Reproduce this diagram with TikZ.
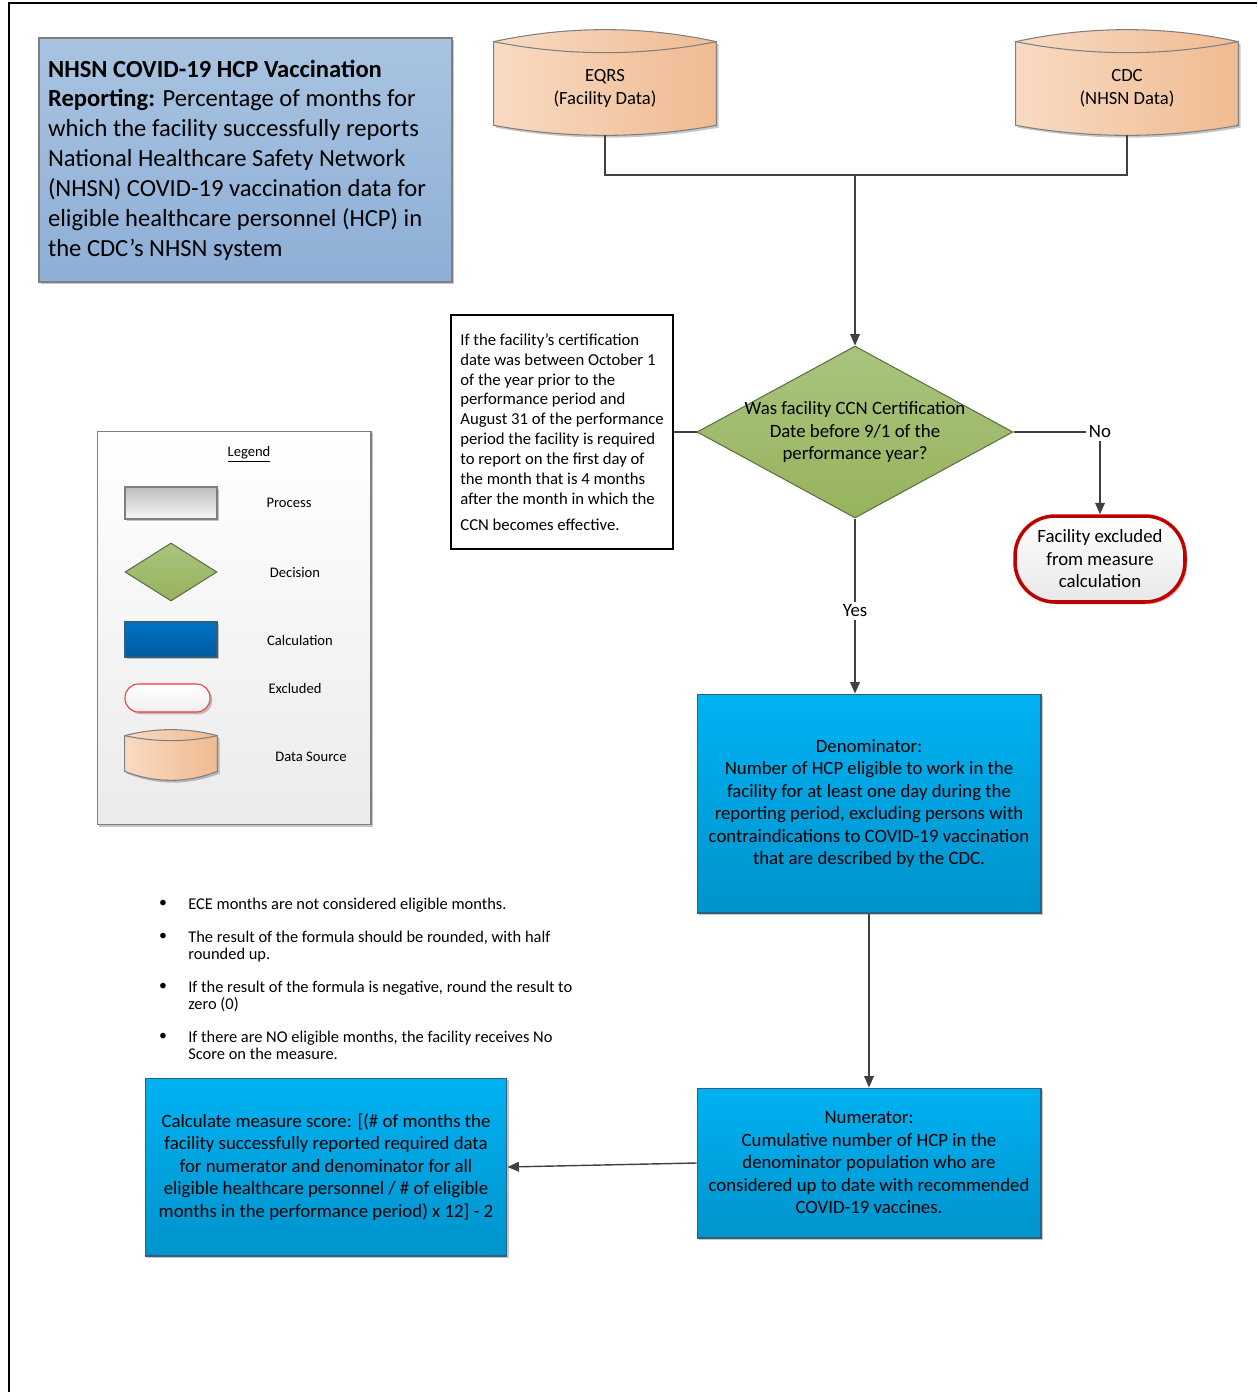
\documentclass[tikz,border=0pt]{standalone}
\usepackage{fontspec}
\setmainfont{Carlito}
\usepackage{xcolor}
\usepackage{tikz}
\usetikzlibrary{shapes,arrows,positioning,calc,shadows,arrows.meta}

\definecolor{linegray}{HTML}{404040}
\definecolor{titletop}{HTML}{A9C4E1}
\definecolor{titlebot}{HTML}{8DAED6}
\definecolor{edgegray}{HTML}{7F7F7F}
\definecolor{calctop}{HTML}{00B2F2}
\definecolor{calcbot}{HTML}{0093CC}
\definecolor{calcedge}{HTML}{2F5F80}
\definecolor{dectop}{HTML}{A9C47F}
\definecolor{decbot}{HTML}{96B35C}
\definecolor{decedge}{HTML}{5E6E42}
\definecolor{drumleft}{HTML}{F9DAC2}
\definecolor{drumright}{HTML}{EFBB92}
\definecolor{exclred}{HTML}{C00000}
\definecolor{legbot}{HTML}{EBEBEB}
\definecolor{proctop}{HTML}{BDBDBD}
\definecolor{procbot}{HTML}{F7F7F7}
\definecolor{lcalctop}{HTML}{0074C6}
\definecolor{lcalcbot}{HTML}{0059A0}

\pgfdeclarelayer{background}
\pgfsetlayers{background,main}

% data source drum: node, top bulge, lens dip, rim (all in px)
\newcommand{\srcdrum}[4]{%
  \draw[drum] (#1.north west)
    .. controls ($(#1.north west)!0.33!(#1.north east)+(0,-4*#2/3)$) and ($(#1.north west)!0.67!(#1.north east)+(0,-4*#2/3)$) .. (#1.north east)
    -- ($(#1.south east)+(0,-#4)$)
    .. controls ($(#1.south east)!0.33!(#1.south west)+(0,#4/3)$) and ($(#1.south east)!0.67!(#1.south west)+(0,#4/3)$) .. ($(#1.south west)+(0,-#4)$)
    -- cycle;
  \draw[drum edge] (#1.north west)
    .. controls ($(#1.north west)!0.33!(#1.north east)+(0,4*#3/3)$) and ($(#1.north west)!0.67!(#1.north east)+(0,4*#3/3)$) .. (#1.north east);
}

\begin{document}
\begin{tikzpicture}[
    x=0.02cm, y=-0.02cm,
    every node/.style={font=\fontsize{10.7}{12.8}\selectfont},
    softshadow/.style={drop shadow={shadow xshift=1.3pt, shadow yshift=-1.3pt, fill=black, opacity=0.22}},
    conn/.style={draw=linegray, line width=0.8pt},
    arr/.style={conn, -{Triangle[length=6.5pt,width=5.5pt]}},
    titlebox/.style={rectangle, draw=edgegray, line width=0.7pt, top color=titletop, bottom color=titlebot, align=flush left, text width=7.9cm, inner xsep=0.18cm, minimum height=4.88cm, softshadow, font=\fontsize{14}{17}\selectfont},
    notebox/.style={rectangle, draw=black, line width=0.9pt, fill=white, align=left, minimum width=4.44cm, minimum height=4.68cm, font=\fontsize{9.5}{11.3}\selectfont},
    decision/.style={diamond, draw=decedge, line width=0.6pt, top color=dectop, bottom color=decbot, inner sep=0pt},
    calcbox/.style={rectangle, draw=calcedge, line width=0.6pt, top color=calctop, bottom color=calcbot, align=center, softshadow},
    exclbox/.style={rectangle, rounded corners=0.8cm, draw=exclred, line width=2pt, top color=white, bottom color=black!9, align=center, minimum width=3.4cm, minimum height=1.72cm, softshadow},
    srcbox/.style={rectangle, align=center, inner sep=0pt, font=\fontsize{10.6}{13}\selectfont},
    drum/.style={draw=edgegray, line width=0.6pt, left color=drumleft, right color=drumright, softshadow},
    drum edge/.style={draw=edgegray, line width=0.6pt},
    legbox/.style={rectangle, draw=edgegray, line width=0.6pt, top color=white, bottom color=legbot, minimum width=5.48cm, minimum height=7.88cm, softshadow},
    leglabel/.style={font=\fontsize{8.3}{9.5}\selectfont},
    item/.style={anchor=north west, inner sep=0pt, align=left, font=\fontsize{9.35}{9.8}\selectfont},
    yesno/.style={inner sep=1.5pt}
]
    \useasboundingbox (0,0) rectangle (1257,1392);
    \draw[line width=0.9pt] (9,1392) -- (9,3) -- (1257,3);

    \node[titlebox] (title) at (245.5,160) {\textbf{NHSN COVID-19 HCP Vaccination}\\
        \textbf{Reporting:} Percentage of months for\\
        which the facility successfully reports\\
        National Healthcare Safety Network\\
        (NHSN) COVID-19 vaccination data for\\
        eligible healthcare personnel (HCP) in\\
        the CDC’s NHSN system};

    % data sources
    \node[srcbox, minimum width=4.44cm, minimum height=1.86cm] (eqrs) at (605,88.5) {EQRS\\(Facility Data)};
    \node[srcbox, minimum width=4.44cm, minimum height=1.86cm] (cdc) at (1127,88.5) {CDC\\(NHSN Data)};
    \begin{pgfonlayer}{background}
        \srcdrum{eqrs}{12}{11}{10}
        \srcdrum{cdc}{12}{11}{10}
    \end{pgfonlayer}
    \coordinate (join) at (855,175);

    % decision
    \node[decision, minimum width=6.32cm, minimum height=3.44cm] (ccn) at (855,432) {};
    \node[align=center] (ccnq) at (ccn) {Was facility CCN Certification\\Date before 9/1 of the\\performance year?};
    \node[notebox] (note) at (562,432) {If the facility’s certification\\
        date was between October 1\\
        of the year prior to the\\
        performance period and\\
        August 31 of the performance\\
        period the facility is required\\
        to report on the first day of\\
        the month that is 4 months\\
        after the month in which the\\[3.5pt]
        CCN becomes effective.};
    \node[yesno] (no) at (1100,432) {No};
    \node[exclbox] (excl) at (1100,559) {Facility excluded\\from measure\\calculation};
    \node[yesno] (yes) at (855,611) {Yes};

    % calculation steps
    \node[calcbox, minimum width=6.88cm, minimum height=4.38cm] (denom) at (869,803.5) {Denominator:\\
        Number of HCP eligible to work in the\\
        facility for at least one day during the\\
        reporting period, excluding persons with\\
        contraindications to COVID-19 vaccination\\
        that are described by the CDC.};
    \node[calcbox, minimum width=6.88cm, minimum height=3.0cm] (numer) at (869,1163) {Numerator:\\
        Cumulative number of HCP in the\\
        denominator population who are\\
        considered up to date with recommended\\
        COVID-19 vaccines.};
    \node[calcbox, minimum width=7.24cm, minimum height=3.56cm] (score) at (326,1167) {Calculate measure score: [(\# of months the\\
        facility successfully reported required data\\
        for numerator and denominator for all\\
        eligible healthcare personnel / \# of eligible\\
        months in the performance period) x 12] - 2};

    \draw[conn] (eqrs.south) |- (join) -| (cdc.south);
    \draw[arr] (join) -- (ccn.north);
    \draw[conn] (note.east) -- (ccn.west);
    \draw[conn] (ccn.east) -- (no.west);
    \draw[arr] (no.south) -- (excl.north);
    \draw[conn] (ccn.south) -- (yes.north);
    \draw[arr] (yes.south) -- (yes.south |- denom.north);
    \draw[arr] (denom.south) -- (numer.north);
    \draw[arr] (numer.west) -- (score.east);

    % legend
    \node[legbox] (legend) at (234,628) {};
    \node[leglabel] (legtitle) at (249,454) {\underline{Legend}};
    \node[rectangle, draw=edgegray, line width=0.6pt, top color=proctop, bottom color=procbot, minimum width=1.84cm, minimum height=0.64cm, softshadow] (lgproc) at (171,503) {};
    \node[decision, minimum width=1.84cm, minimum height=1.16cm] (lgdec) at (171,572) {};
    \node[rectangle, draw=calcedge, line width=0.6pt, top color=lcalctop, bottom color=lcalcbot, minimum width=1.84cm, minimum height=0.7cm, softshadow] (lgcalc) at (171,639.5) {};
    \node[rectangle, rounded corners=0.27cm, draw=red!80, line width=0.6pt, top color=white, bottom color=black!6, minimum width=1.7cm, minimum height=0.56cm, softshadow] (lgexcl) at (167.5,698) {};
    \node[srcbox, minimum width=1.84cm, minimum height=0.88cm] (lgsrc) at (171,758) {};
    \srcdrum{lgsrc}{6}{5}{9}
    \foreach \n/\x/\y/\t in {proc/289/503/Process, dec/295/573/Decision, calc/300/640/Calculation, excl/295/688/Excluded, src/311/757/Data Source} {
        \node[leglabel] (lbl\n) at (\x,\y) {\t};
    }

    % notes on the measure
    \foreach \n/\y/\t in {1/903/{ECE months are not considered eligible months.},
        2/936/{The result of the formula should be rounded, with half\\rounded up.},
        3/986/{If the result of the formula is negative, round the result to\\zero (0)},
        4/1036/{If there are NO eligible months, the facility receives No\\Score on the measure.}} {
        \node[font=\fontsize{9}{9.8}\selectfont] (dot\n) at (163,\y+1) {\textbullet};
        \node[item] (item\n) at (188,\y-5) {\t};
    }

\end{tikzpicture}
\end{document}
